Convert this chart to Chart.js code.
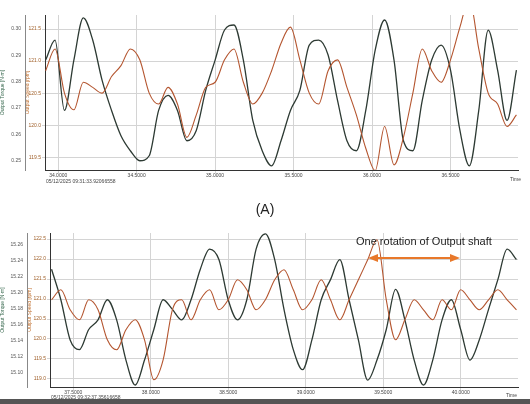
<!DOCTYPE html>
<html><head><meta charset="utf-8">
<script src="https://cdn.jsdelivr.net/npm/chart.js@4"></script>
<style>
body{margin:0;width:530px;height:404px;background:#fff;position:relative;overflow:hidden;font-family:"Liberation Sans",Arial,sans-serif}
canvas{position:absolute;left:0}
.t{position:absolute;font-size:5px;color:#444;white-space:nowrap}
</style></head><body>
<div style="position:absolute;left:0;top:0;width:530px;height:190px"><canvas id="c1"></canvas></div>
<div style="position:absolute;left:0;top:225px;width:530px;height:175px"><canvas id="c2"></canvas></div>
<div class="t" style="left:46px;top:178px">05/12/2025 09:31:33.92066558</div>
<div class="t" style="left:510px;top:176px">Time</div>
<div class="t" style="left:51px;top:394px">05/12/2025 09:32:37.35616658</div>
<div class="t" style="left:506px;top:392px">Time</div>
<div style="position:absolute;left:0;width:530px;top:201px;text-align:center;font-size:14px;color:#222">(A)</div>
<div style="position:absolute;left:356px;top:235px;font-size:11px;color:#222">One rotation of Output shaft</div>
<svg style="position:absolute;left:0;top:0" width="530" height="404"><g stroke="#e8782a" fill="#e8782a" stroke-width="2"><line x1="376" y1="258" x2="452" y2="258"/><polygon points="368,258 378,254 378,262" stroke="none"/><polygon points="460,258 450,254 450,262" stroke="none"/></g></svg>
<div style="position:absolute;left:0;top:399px;width:530px;height:5px;background:#555"></div>
<script>
const topTime=[33.92,33.98,34.04,34.10,34.16,34.22,34.28,34.34,34.40,34.46,34.52,34.58,34.64,34.70,34.76,34.82,34.88,34.94,35.00,35.06,35.12,35.18,35.24,35.30,35.36,35.42,35.48,35.54,35.60,35.66,35.72,35.78,35.84,35.90,35.96,36.02,36.08,36.14,36.20,36.26,36.32,36.38,36.44,36.50,36.56,36.62,36.68,36.74,36.80,36.86,36.92];
const topTorque=[0.2882,0.2958,0.2691,0.2882,0.3042,0.2958,0.2805,0.2691,0.2595,0.2538,0.2500,0.2519,0.2691,0.2748,0.2691,0.2576,0.2615,0.2767,0.2882,0.2996,0.3015,0.2882,0.2653,0.2538,0.2481,0.2576,0.2691,0.2767,0.2939,0.2958,0.2901,0.2729,0.2576,0.2538,0.2691,0.2920,0.3034,0.2882,0.2576,0.2538,0.2729,0.2882,0.2939,0.2844,0.2615,0.2481,0.2691,0.2996,0.2844,0.2653,0.2844];
const topSpeed=[120.85,121.19,120.5,120.24,120.67,120.59,120.5,120.76,120.93,121.19,121.02,120.5,120.33,120.59,120.33,119.81,120.16,120.59,120.67,121.02,121.19,120.67,120.33,120.5,120.85,121.28,121.53,121.02,120.5,120.33,120.85,121.02,120.59,120.16,119.64,119.29,119.98,119.38,119.81,120.5,121.19,120.85,120.67,121.02,121.53,121.97,121.19,120.5,120.33,119.98,120.16];
const botTime=[37.36,37.42,37.48,37.54,37.60,37.66,37.72,37.78,37.84,37.90,37.96,38.02,38.08,38.14,38.20,38.26,38.32,38.38,38.44,38.50,38.56,38.62,38.68,38.74,38.80,38.86,38.92,38.98,39.04,39.10,39.16,39.22,39.28,39.34,39.40,39.46,39.52,39.58,39.64,39.70,39.76,39.82,39.88,39.94,40.00,40.06,40.12,40.18,40.24,40.30,40.36];
const botTorque=[15.229,15.191,15.141,15.129,15.154,15.166,15.191,15.166,15.116,15.085,15.116,15.154,15.191,15.179,15.166,15.191,15.229,15.254,15.241,15.191,15.166,15.191,15.254,15.273,15.241,15.179,15.129,15.104,15.141,15.191,15.216,15.241,15.191,15.141,15.091,15.116,15.154,15.204,15.166,15.116,15.085,15.116,15.166,15.191,15.154,15.116,15.141,15.179,15.216,15.254,15.241];
const botSpeed=[120.98,121.23,120.73,120.48,120.98,120.73,119.98,119.73,120.23,120.48,119.98,118.98,119.48,120.73,120.98,120.48,120.98,121.23,120.73,120.98,121.48,121.23,120.73,120.98,121.48,121.73,121.23,120.73,120.98,121.48,120.98,120.48,120.98,121.48,121.98,122.48,120.98,119.98,120.48,120.98,120.73,120.48,120.98,120.73,121.23,120.98,120.73,120.98,121.23,120.98,120.73];

const DARK='#2d3a33',ORG='#b4552f',GRID='#d4d4d4';
function pts(t,v){return t.map((x,i)=>({x:x,y:v[i]}));}
function make(id,time,tq,sp,o){
  const tickF={size:5,family:'Liberation Sans'};
  new Chart(document.getElementById(id),{type:'line',
    data:{datasets:[
      {data:pts(time,sp),yAxisID:'ys',borderColor:ORG,borderWidth:1.1,pointRadius:0,cubicInterpolationMode:'monotone'},
      {data:pts(time,tq),yAxisID:'yt',borderColor:DARK,borderWidth:1.3,pointRadius:0,cubicInterpolationMode:'monotone'}]},
    options:{animation:false,responsive:true,maintainAspectRatio:false,
      layout:{padding:{top:o.top,right:12,left:0,bottom:0}},
      plugins:{legend:{display:false},tooltip:{enabled:false}},
      scales:{
        x:{type:'linear',min:o.xmin,max:o.xmax,afterBuildTicks:a=>{a.ticks=o.xt.map(v=>({value:v}));},
          ticks:{font:tickF,color:'#444',padding:0,callback:v=>v.toFixed(4),maxRotation:0},grid:{color:GRID,tickLength:3},border:{color:'#333'},
          afterFit:s=>{s.height=o.xh;}},
        ys:{position:'left',min:o.smin,max:o.smax,afterBuildTicks:a=>{a.ticks=o.st.map(v=>({value:v}));},
          ticks:{font:tickF,color:'#a0602a',padding:1},grid:{color:GRID,tickLength:3},border:{color:'#333'},
          title:{display:true,text:'Output Speed [rpm]',font:{size:5},color:'#c07030',padding:0},
          afterFit:s=>{s.width=o.sw;}},
        yt:{position:'left',min:o.tmin,max:o.tmax,afterBuildTicks:a=>{a.ticks=o.tt.map(v=>({value:v}));},
          ticks:{font:tickF,color:'#555',padding:1},grid:{display:false,tickLength:3},border:{color:'#888'},
          title:{display:true,text:'Output Torque [N·m]',font:{size:5},color:'#3a6a50',padding:0},
          afterFit:s=>{s.width=o.tw;}}
      }}});
}
make('c1',topTime,topTorque,topSpeed,{top:15,xmin:33.916,xmax:36.93,xt:[34,34.5,35,35.5,36,36.5],xh:20,
  tmin:0.2465,tmax:0.3053,tt:[0.25,0.26,0.27,0.28,0.29,0.3],tw:25,smin:119.3,smax:121.72,st:[119.5,120,120.5,121,121.5],sw:20});
make('c2',botTime,botTorque,botSpeed,{top:8,xmin:37.35,xmax:40.37,xt:[37.5,38,38.5,39,39.5,40],xh:13,
  tmin:15.0825,tmax:15.274,tt:[15.1,15.12,15.14,15.16,15.18,15.2,15.22,15.24,15.26],tw:27,smin:118.8,smax:122.65,st:[119,119.5,120,120.5,121,121.5,122,122.5],sw:23});
</script></body></html>
